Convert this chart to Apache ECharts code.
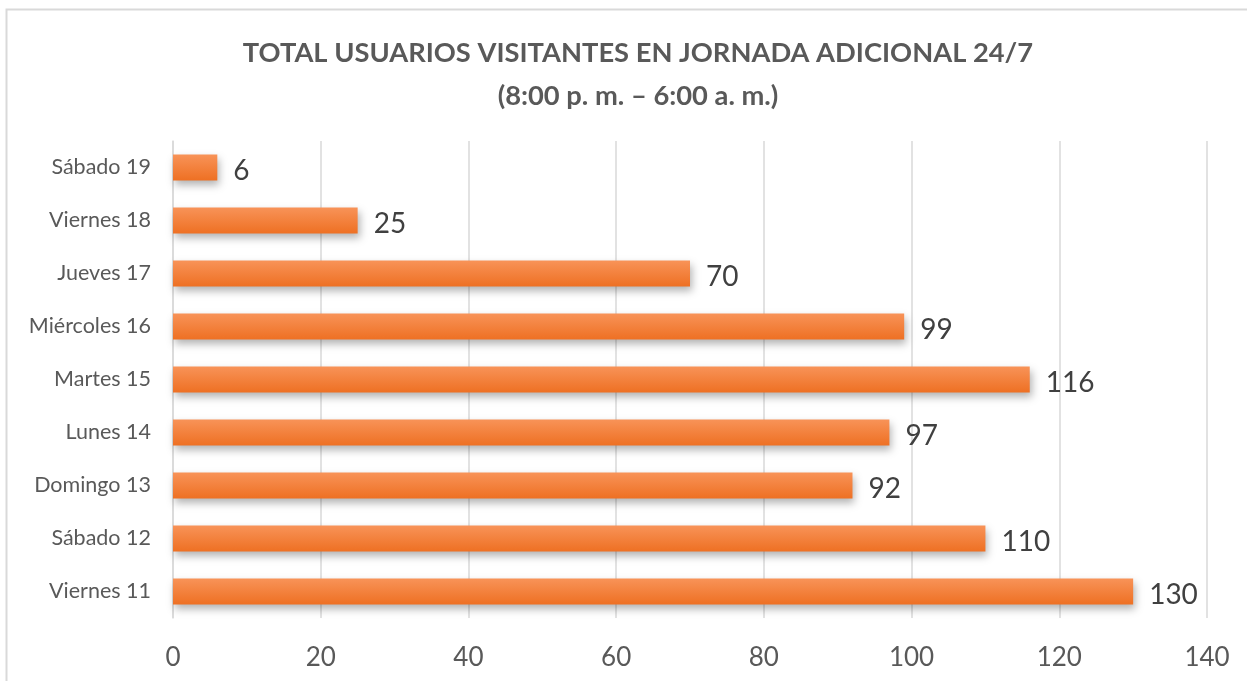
<!DOCTYPE html>
<html lang="es">
<head>
    <meta charset="UTF-8">
    <title>Total usuarios visitantes</title>
    <script src="https://cdn.jsdelivr.net/npm/echarts@6/dist/echarts.min.js"></script>
    <style>
        html, body { margin: 0; padding: 0; background: #fff; }
        #chart { width: 1247px; height: 681px; }
    </style>
</head>
<body>
<div id="chart"></div>
<script type="text/javascript">
    // categorias de abajo hacia arriba (eje de categorias)
    var dias = ['Viernes 11', 'Sábado 12', 'Domingo 13', 'Lunes 14', 'Martes 15',
                'Miércoles 16', 'Jueves 17', 'Viernes 18', 'Sábado 19'];
    var usuarios = [130, 110, 92, 97, 116, 99, 70, 25, 6];
    var xTicks = [0, 20, 40, 60, 80, 100, 120, 140];

    var fuente = 'Lato, "Open Sans", sans-serif';
    var myChart = echarts.init(document.getElementById('chart'));
    var option = {
        backgroundColor: '#fff',
        animation: false,
        title: {
            text: 'TOTAL USUARIOS VISITANTES EN JORNADA ADICIONAL 24/7\n(8:00 p. m. – 6:00 a. m.)',
            left: 633,
            textAlign: 'center',
            top: 27,
            textStyle: {
                fontFamily: fuente,
                fontSize: 27.3,
                fontWeight: 'bold',
                color: '#595959',
                lineHeight: 43
            }
        },
        grid: {
            left: 173,
            right: 40,
            top: 141,
            height: 477
        },
        xAxis: {
            type: 'value',
            min: xTicks[0],
            max: xTicks[xTicks.length - 1],
            interval: 20,
            axisLine: { show: false },
            axisTick: { show: false },
            splitLine: { lineStyle: { color: '#d9d9d9', width: 1.5 } },
            axisLabel: {
                margin: 27,
                fontFamily: fuente,
                fontSize: 26,
                color: '#595959'
            }
        },
        yAxis: {
            type: 'category',
            data: dias,
            axisLine: { show: true, lineStyle: { color: '#d9d9d9', width: 1.5 } },
            axisTick: { show: false },
            axisLabel: {
                margin: 22,
                fontFamily: fuente,
                fontSize: 21.5,
                color: '#595959'
            }
        },
        series: [
            {
                type: 'bar',
                data: usuarios,
                barWidth: 26,
                itemStyle: {
                    color: new echarts.graphic.LinearGradient(0, 0, 0, 1, [
                        { offset: 0, color: '#F89358' },
                        { offset: 1, color: '#EE7023' }
                    ]),
                    shadowColor: 'rgba(0,0,0,0.3)',
                    shadowBlur: 8,
                    shadowOffsetX: 2,
                    shadowOffsetY: 4
                },
                label: {
                    show: true,
                    position: 'right',
                    distance: 16,
                    fontFamily: fuente,
                    fontSize: 28,
                    color: '#404040',
                    offset: [0, 3]
                }
            }
        ],
        graphic: [
            {
                type: 'polyline',
                silent: true,
                shape: { points: [[6.5, 681], [6.5, 9.5], [1247, 9.5]] },
                style: { stroke: '#d9d9d9', lineWidth: 2, fill: null }
            }
        ]
    };
    myChart.setOption(option);
</script>
</body>
</html>
